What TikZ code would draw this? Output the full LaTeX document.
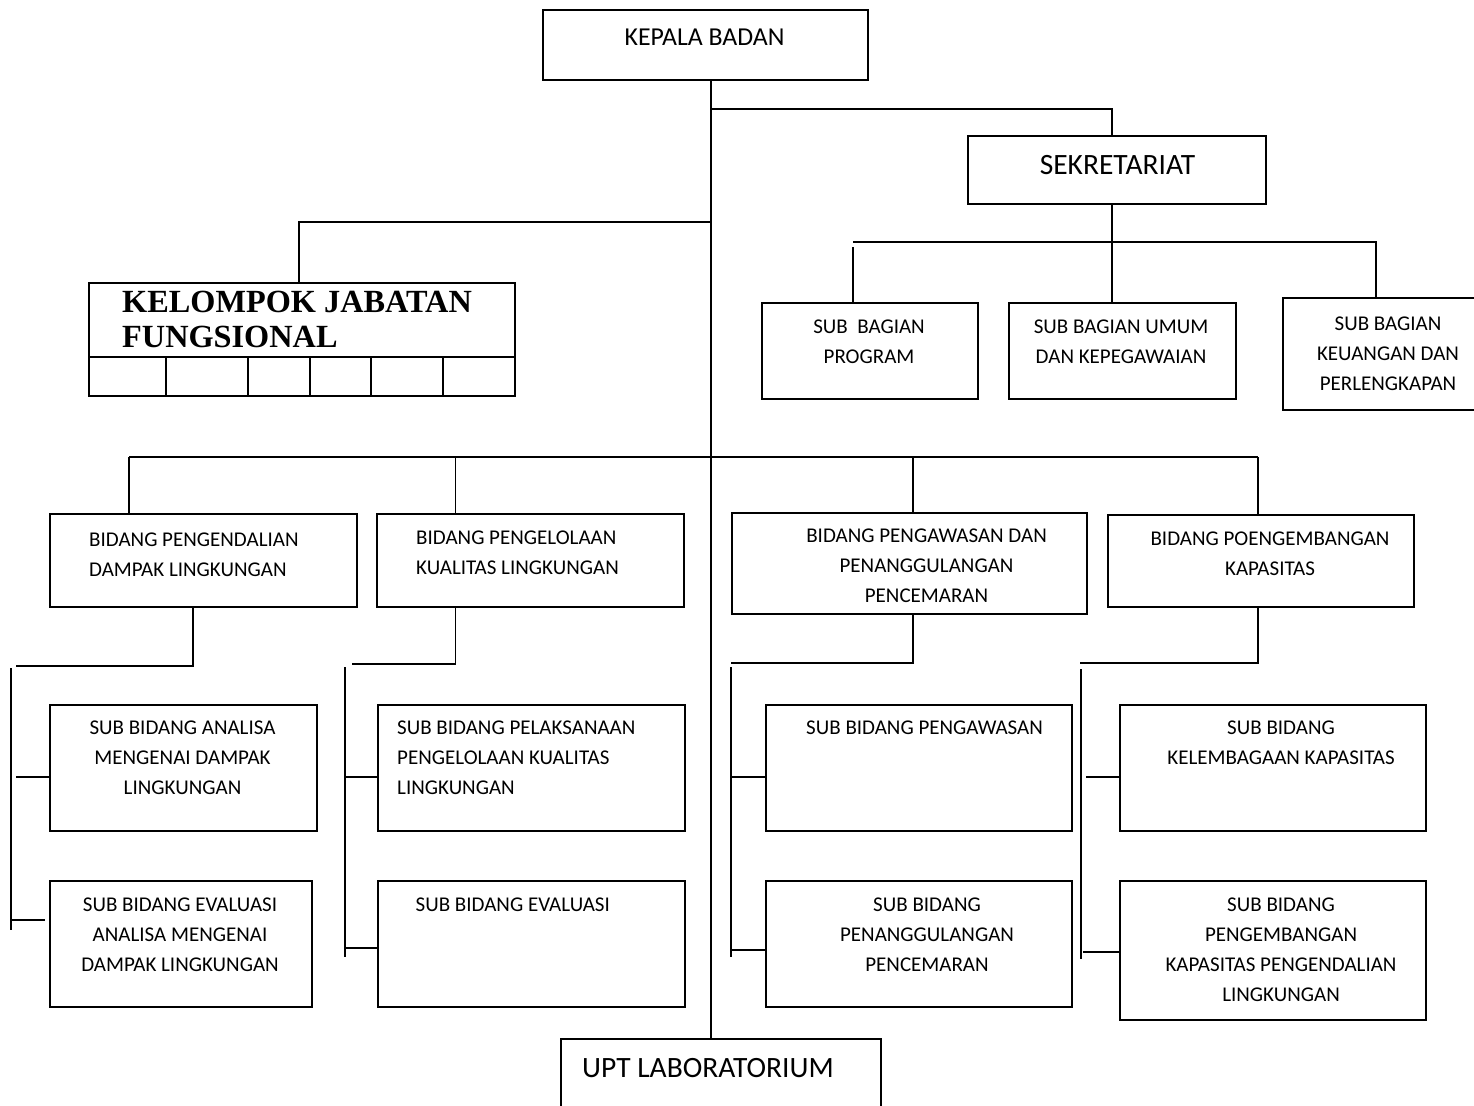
\documentclass[tikz,border=0pt]{standalone}
\usepackage{fontspec}
\setmainfont{Carlito}
\newfontfamily\timesfont{Liberation Serif}
\begin{document}
\begin{tikzpicture}[x=1pt,y=-1pt,
  box/.style={draw, line width=2pt, inner sep=0pt, anchor=north west},
  conn/.style={line width=1.7pt},
  sm/.style={font=\fontsize{21}{30}\selectfont, inner sep=0pt, align=center, anchor=north},
  sml/.style={font=\fontsize{21}{30}\selectfont, inner sep=0pt, align=left, anchor=north west}]
\useasboundingbox (0,0) rectangle (1474,1105);

% boxes
\node[box, minimum width=325pt, minimum height=70pt] (kb) at (542,9) {};
\node[box, minimum width=298pt, minimum height=68pt] (sek) at (967,135) {};
\node[box, minimum width=216pt, minimum height=96pt] (sbp) at (761,302) {};
\node[box, minimum width=227pt, minimum height=96pt] (sbu) at (1008,302) {};
\node[box, minimum width=196pt, minimum height=112pt] (sbk) at (1282,297) {};
\node[box, minimum width=426pt, minimum height=113pt] (kjf) at (88,282) {};
\node[box, minimum width=307pt, minimum height=93pt] (b1) at (49,513) {};
\node[box, minimum width=307pt, minimum height=93pt] (b2) at (376,513) {};
\node[box, minimum width=355pt, minimum height=101pt] (b3) at (731,512) {};
\node[box, minimum width=306pt, minimum height=92pt] (b4) at (1107,514) {};
\node[box, minimum width=267pt, minimum height=126pt] (s11) at (49,704) {};
\node[box, minimum width=262pt, minimum height=126pt] (s12) at (49,880) {};
\node[box, minimum width=307pt, minimum height=126pt] (s21) at (377,704) {};
\node[box, minimum width=307pt, minimum height=126pt] (s22) at (377,880) {};
\node[box, minimum width=306pt, minimum height=126pt] (s31) at (765,704) {};
\node[box, minimum width=306pt, minimum height=126pt] (s32) at (765,880) {};
\node[box, minimum width=306pt, minimum height=126pt] (s41) at (1119,704) {};
\node[box, minimum width=306pt, minimum height=139pt] (s42) at (1119,880) {};
\node[box, minimum width=320pt, minimum height=100pt] (upt) at (560,1038) {};

% kelompok table lines
\draw[line width=2pt] (kjf.west |- 0,357) -- (kjf.east |- 0,357);
\foreach \xx in {166,248,310,371,443} {
  \draw[line width=2pt] (\xx,357) -- (kjf.south -| \xx,0);
}

% texts
\node[font=\fontsize{25.8}{30}\selectfont, inner sep=0pt, anchor=north] (kbt) at (704.5,29) {KEPALA BADAN};
\node[font=\fontsize{29.5}{34}\selectfont, inner sep=0pt, anchor=north] (sekt) at (1117.5,155) {SEKRETARIAT};
\node[sm] (sbpt) at (869,320) {SUB~ BAGIAN\\PROGRAM};
\node[sm] (sbut) at (1121,320) {SUB BAGIAN UMUM\\DAN KEPEGAWAIAN};
\node[sm] (sbkt) at (1388,317) {SUB BAGIAN\\KEUANGAN DAN\\PERLENGKAPAN};
\node[font=\timesfont\bfseries\fontsize{32.3}{35}\selectfont, inner sep=0pt, align=left, anchor=north west] (kjft) at (122,291) {KELOMPOK JABATAN\\FUNGSIONAL};
\node[sml] (b1t) at (89,533) {BIDANG PENGENDALIAN\\DAMPAK LINGKUNGAN};
\node[sml] (b2t) at (416,531) {BIDANG PENGELOLAAN\\KUALITAS LINGKUNGAN};
\node[sm] (b3t) at (926.5,529) {BIDANG PENGAWASAN DAN\\PENANGGULANGAN\\PENCEMARAN};
\node[sm] (b4t) at (1270,532) {BIDANG POENGEMBANGAN\\KAPASITAS};
\node[sm] (s11t) at (182.5,721) {SUB BIDANG ANALISA\\MENGENAI DAMPAK\\LINGKUNGAN};
\node[sm] (s12t) at (180,898) {SUB BIDANG EVALUASI\\ANALISA MENGENAI\\DAMPAK LINGKUNGAN};
\node[sml] (s21t) at (397,721) {SUB BIDANG PELAKSANAAN\\PENGELOLAAN KUALITAS\\LINGKUNGAN};
\node[sml] (s22t) at (415.5,898) {SUB BIDANG EVALUASI};
\node[sml] (s31t) at (806,721) {SUB BIDANG PENGAWASAN};
\node[sm] (s32t) at (927,898) {SUB BIDANG\\PENANGGULANGAN\\PENCEMARAN};
\node[sm] (s41t) at (1281,721) {SUB BIDANG\\KELEMBAGAAN KAPASITAS};
\node[sm] (s42t) at (1281,898) {SUB BIDANG\\PENGEMBANGAN\\KAPASITAS PENGENDALIAN\\LINGKUNGAN};
\node[font=\fontsize{29.5}{34}\selectfont, inner sep=0pt, anchor=north west] (uptt) at (582,1058.5) {UPT LABORATORIUM};

% junction coordinates
\coordinate (mx) at (711,0);
\coordinate (jsek) at (711,109);
\coordinate (sx) at (1112,0);
\coordinate (hl) at (853,242);
\coordinate (hlb) at (853,247);
\coordinate (hr) at (1376,242);
\coordinate (jk) at (711,222);
\coordinate (kx) at (299,0);
\coordinate (bl) at (129,457);
\coordinate (br) at (1258,457);
\coordinate (x2) at (455.5,457);
\coordinate (x3) at (913,457);

% connectors top
\draw[conn] (kb.south -| mx) -- (upt.north -| mx);
\draw[conn] (jsek) -| (sek.north -| sx);
\draw[conn] (sek.south -| sx) -- (sbu.north -| sx);
\draw[conn] (hl) -- (hr) -- (sbk.north -| hr);
\draw[conn] (hlb) -- (sbp.north -| hlb);
\draw[conn] (jk) -| (kjf.north -| kx);
\draw[conn] (bl) -- (br);
\draw[conn] (bl) -- (b1.north -| bl);
\draw[conn] (x2) -- (b2.north -| x2);
\draw[conn] (x3) -- (b3.north -| x3);
\draw[conn] (br) -- (b4.north -| br);

% B1 branch
\coordinate (b1x) at (193,0);
\coordinate (b1e) at (16,666);
\coordinate (v1t) at (11,668);
\coordinate (v1b) at (11,930);
\coordinate (st11) at (16,777);
\coordinate (st12) at (11,920);
\coordinate (st12e) at (45,920);
\draw[conn] (b1.south -| b1x) |- (b1e);
\draw[conn] (v1t) -- (v1b);
\draw[conn] (st11) -- (st11 -| s11.west);
\draw[conn] (st12) -- (st12e);

% B2 branch
\coordinate (b2x) at (455.5,0);
\coordinate (b2e) at (352,664);
\coordinate (v2t) at (345,667);
\coordinate (v2b) at (345,957);
\coordinate (st21) at (345,777);
\coordinate (st22) at (345,948);
\draw[conn] (b2.south -| b2x) |- (b2e);
\draw[conn] (v2t) -- (v2b);
\draw[conn] (st21) -- (st21 -| s21.west);
\draw[conn] (st22) -- (st22 -| s22.west);

% B3 branch
\coordinate (b3x) at (913,0);
\coordinate (b3e) at (731,663);
\coordinate (v3t) at (731,667);
\coordinate (v3b) at (731,957);
\coordinate (st31) at (731,777);
\coordinate (st32) at (731,950);
\draw[conn] (b3.south -| b3x) |- (b3e);
\draw[conn] (v3t) -- (v3b);
\draw[conn] (st31) -- (st31 -| s31.west);
\draw[conn] (st32) -- (st32 -| s32.west);

% B4 branch
\coordinate (b4x) at (1258,0);
\coordinate (b4e) at (1080,663);
\coordinate (v4t) at (1081,669);
\coordinate (v4b) at (1081,959);
\coordinate (st41) at (1086,777);
\coordinate (st42) at (1083,952);
\draw[conn] (b4.south -| b4x) |- (b4e);
\draw[conn] (v4t) -- (v4b);
\draw[conn] (st41) -- (st41 -| s41.west);
\draw[conn] (st42) -- (st42 -| s42.west);
\end{tikzpicture}
\end{document}
